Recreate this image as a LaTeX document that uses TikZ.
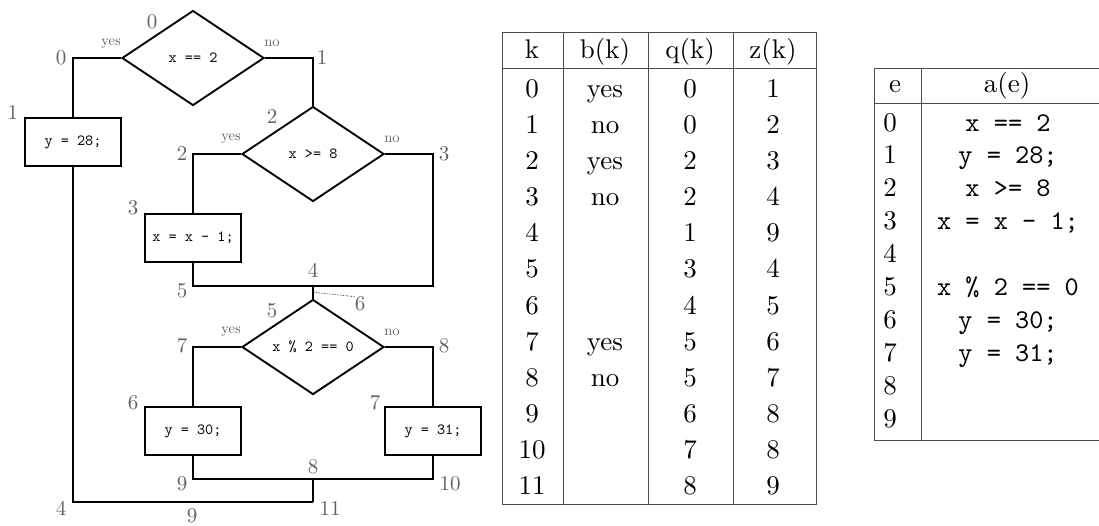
\documentclass[tikz,border=0pt]{standalone}
\usepackage{fontspec}
\setmainfont{lmroman10-regular.otf}
\setmonofont{lmmono10-regular.otf}
\usetikzlibrary{shapes.geometric,calc}
\definecolor{labelgray}{gray}{0.38}
\definecolor{rulegray}{gray}{0.30}
\begin{document}
\begin{tikzpicture}[x=1pt,y=-1pt,
  flow/.style={draw=black,line width=1.9pt},
  decision/.style={diamond,draw=black,line width=1.9pt,aspect=1.5,inner sep=0pt,
    minimum width=142pt,minimum height=95pt,font=\fontsize{15.5}{18}\selectfont\ttfamily},
  stmt/.style={rectangle,draw=black,line width=1.9pt,inner sep=0pt,
    minimum width=96pt,minimum height=48pt,font=\fontsize{15.5}{18}\selectfont\ttfamily},
  idx/.style={text=labelgray,inner sep=0pt,font=\fontsize{21}{24}\selectfont},
  branch/.style={text=labelgray,inner sep=0pt,font=\fontsize{14.5}{16}\selectfont},
  cell/.style={anchor=base,inner sep=0pt,font=\fontsize{27}{32}\selectfont},
  codecell/.style={anchor=base,inner sep=0pt,font=\fontsize{27}{32}\selectfont\ttfamily},
  rule/.style={draw=rulegray,line width=1pt}]
\path[use as bounding box] (0,0) rectangle (1099,525);

% ---------------- flowchart ----------------
\node[decision] (d0) at (193,58)  {x == 2};
\node[stmt]     (s1) at (73,142)  {y = 28;};
\node[decision] (d2) at (313,154) {x >= 8};
\node[stmt]     (s3) at (193,238) {x = x - 1;};
\node[decision] (d5) at (313,347) {x \% 2 == 0};
\node[stmt]     (s6) at (193,431) {y = 30;};
\node[stmt]     (s7) at (433,431) {y = 31;};

% bends and joins of the connectors
\coordinate (c0)  at (73,58);
\coordinate (c1)  at (313,58);
\coordinate (c2)  at (193,154);
\coordinate (c3)  at (433,154);
\coordinate (c3b) at (433,286);
\coordinate (c5)  at (193,286);
\coordinate (j4)  at (313,286);
\coordinate (c7)  at (193,347);
\coordinate (c8)  at (433,347);
\coordinate (c9)  at (193,479);
\coordinate (c10) at (433,479);
\coordinate (j8)  at (313,479);
\coordinate (c11) at (313,502);
\coordinate (c4)  at (73,502);

\draw[flow] (d0.west) -- (c0) -- (s1.north);
\draw[flow] (d0.east) -- (c1) -- (d2.north);
\draw[flow] (d2.west) -- (c2) -- (s3.north);
\draw[flow] (d2.east) -- (c3) -- (c3b) -- (j4);
\draw[flow] (s3.south) -- (c5) -- (j4);
\draw[flow] (j4) -- (d5.north);
\draw[flow] (d5.west) -- (c7) -- (s6.north);
\draw[flow] (d5.east) -- (c8) -- (s7.north);
\draw[flow] (s6.south) -- (c9) -- (j8);
\draw[flow] (s7.south) -- (c10) -- (j8);
\draw[flow] (j8) -- (c11);
\draw[flow] (s1.south) -- (c4) -- (c11);

% vertex numbers
\node[idx] (v0) at (152,22)  {0};
\node[idx] (v1) at (13,113)  {1};
\node[idx] (v2) at (272,117) {2};
\node[idx] (v3) at (133,208) {3};
\node[idx] (v4) at (313,270) {4};
\node[idx] (v5) at (272,311) {5};
\node[idx] (v6) at (133,403) {6};
\node[idx] (v7) at (375,403) {7};
\node[idx] (v8) at (313,467) {8};
\node[idx] (v9) at (192,516) {9};

% edge numbers
\node[idx] (e0)  at (61,58)   {0};
\node[idx] (e1)  at (322,58)  {1};
\node[idx] (e2)  at (182,154) {2};
\node[idx] (e3)  at (444,154) {3};
\node[idx] (e4)  at (61,508)  {4};
\node[idx] (e5)  at (182,291) {5};
\node[idx] (e6)  at (360,304) {6};
\node[idx] (e7)  at (182,346) {7};
\node[idx] (e8)  at (444,346) {8};
\node[idx] (e9)  at (182,484) {9};
\node[idx] (e10) at (450,484) {10};
\node[idx] (e11) at (330,508) {11};
\draw[densely dotted,line width=0.6pt] ($(j4)!0.5!(d5.north)$) -- (e6.north west);

% branch labels
\node[branch] (y0) at (111,44)  {yes};
\node[branch] (n0) at (272,43)  {no};
\node[branch] (y2) at (231,139) {yes};
\node[branch] (n2) at (392,139) {no};
\node[branch] (y5) at (231,332) {yes};
\node[branch] (n5) at (392,332) {no};

% ---------------- edge table ----------------
\draw[rule] (502,32) rectangle (816,504);
\draw[rule] (502,68) -- (816,68);
\foreach \x in {563,648,733} \draw[rule] (\x,32) -- (\x,504);
\node[cell] (hk) at (532,58) {k};
\node[cell] (hb) at (605,58) {b(k)};
\node[cell] (hq) at (690,58) {q(k)};
\node[cell] (hz) at (773,58) {z(k)};
\foreach \k/\b/\q/\z [count=\i from 0] in
  {0/yes/0/1, 1/no/0/2, 2/yes/2/3, 3/no/2/4, 4//1/9, 5//3/4,
   6//4/5, 7/yes/5/6, 8/no/5/7, 9//6/8, 10//7/8, 11//8/9} {
  \node[cell] (k\i) at (532,97+36.18*\i) {\k};
  \node[cell] (b\i) at (605,97+36.18*\i) {\b};
  \node[cell] (q\i) at (690,97+36.18*\i) {\q};
  \node[cell] (z\i) at (773,97+36.18*\i) {\z};
}

% ---------------- statement table ----------------
\draw[rule] (1099,68) -- (874,68) -- (874,440) -- (1099,440);
\draw[rule] (874,103) -- (1099,103);
\draw[rule] (921,68) -- (921,440);
\node[cell] (he) at (895,92) {e};
\node[cell] (ha) at (1007,92) {a(e)};
\foreach \e/\a [count=\i from 0] in
  {0/x == 2, 1/y = 28;, 2/x >= 8, 3/x = x - 1;, 4/, 5/x \% 2 == 0,
   6/y = 30;, 7/y = 31;, 8/, 9/} {
  \node[cell] (ei\i) at (890,131+32.9*\i) {\e};
  \node[codecell] (ai\i) at (1008,131+32.9*\i) {\a};
}
\end{tikzpicture}
\end{document}
